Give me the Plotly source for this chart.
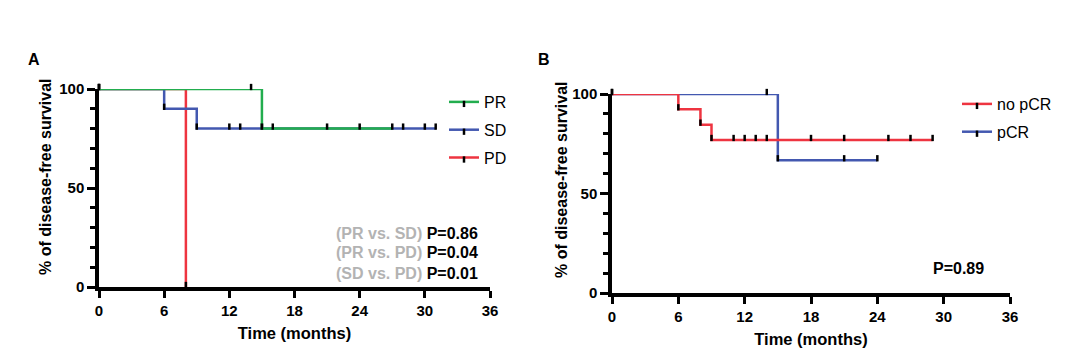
import plotly.graph_objects as go

# ---------------- Data ----------------
# Panel A (response groups)
pr_t = [0, 15, 27]
pr_s = [100, 80, 80]
pr_cens_t = [14, 16, 21, 24]
pr_cens_s = [100, 80, 80, 80]

sd_t = [0, 6, 9, 31]
sd_s = [100, 90, 80, 80]
sd_cens_t = [12, 13, 15, 28, 30]
sd_cens_s = [80, 80, 80, 80, 80]

pd_t = [0, 8]
pd_s = [100, 0]

# Panel B (pCR status)
nopcr_t = [0, 6, 8, 9, 29]
nopcr_s = [100, 92.3, 84.6, 76.9, 76.9]
nopcr_cens_t = [11, 12, 13, 14, 18, 21, 25, 27]
nopcr_cens_s = [76.9] * 8

pcr_t = [0, 15, 24]
pcr_s = [100, 66.7, 66.7]
pcr_cens_t = [14, 21]
pcr_cens_s = [100, 66.7]

x_ticks = [0, 6, 12, 18, 24, 30, 36]
y_ticks = [0, 50, 100]

y_title = "% of disease-free survival"
x_title = "Time (months)"
p_labels_A = [("(PR vs. SD)", "P=0.86"), ("(PR vs. PD)", "P=0.04"), ("(SD vs. PD)", "P=0.01")]
p_label_B = "P=0.89"

# ---------------- Style ----------------
GREEN = "#22ad4e"
BLUE = "#4358b0"
RED = "#ee3440"
FONT = "Liberation Sans, Arial, sans-serif"
W, H = 1080, 361
OFF = 8  # page body margin

def px_x(p):
    return (p - OFF) / W

def px_y(p):
    return 1 - (p - OFF) / H

mk = dict(symbol="line-ns", size=4.5, line=dict(color="black", width=2.5), color="black",
          angle=180, standoff=2)

fig = go.Figure()

def km(name, t, s, ct, cs, color, xa, ya, legend, rank):
    fig.add_trace(go.Scatter(
        x=t, y=s, mode="lines+markers", line=dict(color=color, width=2.5, shape="hv"),
        marker=mk, name=name, xaxis=xa, yaxis=ya, legend=legend, legendgroup=name,
        legendrank=rank, cliponaxis=False, hoverinfo="skip"))
    if ct:
        fig.add_trace(go.Scatter(
            x=ct, y=cs, mode="markers", marker=mk, showlegend=False, xaxis=xa, yaxis=ya,
            legendgroup=name, cliponaxis=False, hoverinfo="skip"))

# Panel A (draw order: PD, SD, PR so green sits on top)
km("PD", pd_t, pd_s, [], [], RED, "x", "y", "legend", 3)
km("SD", sd_t, sd_s, sd_cens_t, sd_cens_s, BLUE, "x", "y", "legend", 2)
km("PR", pr_t, pr_s, pr_cens_t, pr_cens_s, GREEN, "x", "y", "legend", 1)
# Panel B (blue first, red on top)
km("pCR", pcr_t, pcr_s, pcr_cens_t, pcr_cens_s, BLUE, "x2", "y2", "legend2", 2)
km("no pCR", nopcr_t, nopcr_s, nopcr_cens_t, nopcr_cens_s, RED, "x2", "y2", "legend2", 1)

tickfont = dict(family=FONT, size=15, color="black", weight="bold")
xtitlefont = dict(family=FONT, size=16.5, color="black", weight="bold")

def xaxis(domain, anchor):
    return dict(domain=domain, anchor=anchor, range=[0, 36], tickvals=x_ticks,
                showline=True, linewidth=3.5, linecolor="black", ticks="outside",
                ticklen=7, tickwidth=3, tickcolor="black", showgrid=False,
                zeroline=False, tickfont=tickfont, automargin=False,
                title=dict(text=x_title, font=xtitlefont, standoff=11))

def yaxis(domain, anchor):
    return dict(domain=domain, anchor=anchor, range=[0, 100], tickvals=y_ticks,
                showline=True, linewidth=3.5, linecolor="black", ticks="outside",
                ticklen=8, tickwidth=3, tickcolor="black", showgrid=False,
                zeroline=False, tickfont=tickfont, automargin=False,
                minor=dict(dtick=10, ticks="outside", ticklen=5, tickwidth=2.5, tickcolor="black"))

legfont = dict(family=FONT, size=16, color="black")

fig.update_layout(
    width=W, height=H, margin=dict(l=0, r=0, t=0, b=0),
    paper_bgcolor="white", plot_bgcolor="white", showlegend=True,
    xaxis=xaxis([px_x(99), px_x(490)], "y"),
    yaxis=yaxis([px_y(287), px_y(89)], "x"),
    xaxis2=xaxis([px_x(612), px_x(1010)], "y2"),
    yaxis2=yaxis([px_y(293), px_y(94)], "x2"),
    legend=dict(x=px_x(444), y=px_y(85), xanchor="left", yanchor="top", font=legfont,
                bgcolor="rgba(0,0,0,0)", traceorder="grouped", tracegroupgap=4,
                itemwidth=30),
    legend2=dict(x=px_x(957), y=px_y(87), xanchor="left", yanchor="top", font=legfont,
                 bgcolor="rgba(0,0,0,0)", traceorder="grouped", tracegroupgap=4,
                 itemwidth=30),
)

ann = []
ann.append(dict(text="<b>A</b>", x=px_x(26), y=px_y(60), xref="paper", yref="paper",
                xanchor="left", yanchor="middle", showarrow=False,
                font=dict(family=FONT, size=16, color="black")))
ann.append(dict(text="<b>B</b>", x=px_x(536), y=px_y(60), xref="paper", yref="paper",
                xanchor="left", yanchor="middle", showarrow=False,
                font=dict(family=FONT, size=16, color="black")))
for cx, cy in [(45, 177), (561, 180)]:
    ann.append(dict(text=f"<b>{y_title}</b>", x=px_x(cx), y=px_y(cy), xref="paper", yref="paper",
                    xanchor="center", yanchor="middle", textangle=-90, showarrow=False,
                    font=dict(family=FONT, size=16, color="black")))
rows_y = [233, 253, 273]
for (g, p), yy in zip(p_labels_A, rows_y):
    ann.append(dict(text=f"<b><span style='color:#b3b3b3'>{g}</span> {p}</b>",
                    x=px_x(480), y=px_y(yy), xref="paper", yref="paper",
                    xanchor="right", yanchor="middle", showarrow=False,
                    font=dict(family=FONT, size=16, color="black")))
ann.append(dict(text=f"<b>{p_label_B}</b>", x=px_x(958), y=px_y(268), xref="paper", yref="paper",
                xanchor="center", yanchor="middle", showarrow=False,
                font=dict(family=FONT, size=16, color="black")))
fig.update_layout(annotations=ann)

fig.write_html("out.html")
